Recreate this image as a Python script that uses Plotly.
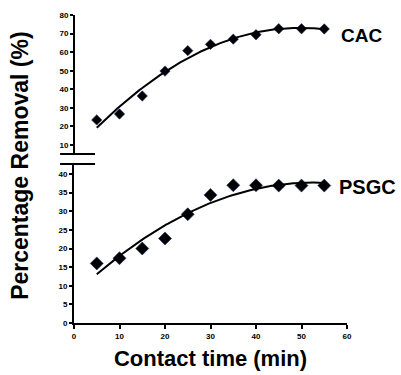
import numpy as np
import plotly.graph_objects as go

time_min = [5, 10, 15, 20, 25, 30, 35, 40, 45, 50, 55]
cac_removal = [23.5, 26.7, 36.4, 49.8, 60.8, 64.2, 67.0, 69.4, 72.6, 72.6, 72.5]
psgc_removal = [16.0, 17.4, 20.0, 22.7, 29.2, 34.4, 37.0, 37.0, 36.9, 36.9, 36.9]
x_ticks = [0, 10, 20, 30, 40, 50, 60]
top_ticks = [10, 20, 30, 40, 50, 60, 70, 80]
bottom_ticks = [0, 5, 10, 15, 20, 25, 30, 35, 40]

xs = np.linspace(min(time_min), max(time_min), 200)
cac_fit = np.polyval(np.polyfit(time_min, cac_removal, 2), xs)
psgc_fit = np.polyval(np.polyfit(time_min, psgc_removal, 2), xs)

fig = go.Figure()
mk_line = dict(color="#1b2f6e", width=0.6)
fig.add_trace(go.Scatter(x=time_min, y=cac_removal, mode="markers", xaxis="x", yaxis="y2",
                         marker=dict(symbol="diamond", size=8, color="black", line=mk_line)))
fig.add_trace(go.Scatter(x=xs, y=cac_fit, mode="lines", xaxis="x", yaxis="y2",
                         line=dict(color="black", width=2)))
fig.add_trace(go.Scatter(x=time_min, y=psgc_removal, mode="markers", xaxis="x", yaxis="y",
                         marker=dict(symbol="diamond", size=10, color="black", line=mk_line)))
fig.add_trace(go.Scatter(x=xs, y=psgc_fit, mode="lines", xaxis="x", yaxis="y",
                         line=dict(color="black", width=2)))

tickfont = dict(family="Liberation Sans, Arial, sans-serif", size=8, color="black", weight="bold")
axis_common = dict(showgrid=False, zeroline=False, showline=True, linecolor="black", linewidth=2,
                   ticks="outside", tickwidth=1.5, tickcolor="black", tickfont=tickfont,
                   automargin=False)

fig.update_layout(
    width=401, height=375,
    margin=dict(l=74, r=54, t=15, b=52),
    paper_bgcolor="white", plot_bgcolor="white",
    showlegend=False,
    font=dict(family="Liberation Sans, Arial, sans-serif", color="black"),
    xaxis=dict(domain=[0, 1], range=[0, 60], tickvals=x_ticks, anchor="y", ticklen=4,
               title=dict(text="<b>Contact time (min)</b>", font=dict(size=22), standoff=11),
               **axis_common),
    yaxis=dict(domain=[0, 0.5162], range=[0, 42.7], tickvals=bottom_ticks, anchor="x", ticklen=3,
               **axis_common),
    yaxis2=dict(domain=[0.5487, 1], range=[5.15, 80], tickvals=top_ticks, anchor="free", position=0,
                ticklen=3, **axis_common),
    annotations=[
        dict(text="<b>CAC</b>", x=58.3, y=68.7, xref="x", yref="y2", xanchor="left", yanchor="middle",
             showarrow=False, font=dict(size=19, color="black")),
        dict(text="<b>PSGC</b>", x=57.8, y=36.5, xref="x", yref="y", xanchor="left", yanchor="middle",
             showarrow=False, font=dict(size=20, color="black")),
        dict(text="<b>Percentage Removal (%)</b>", x=-0.198, y=0.51, xref="paper", yref="paper",
             textangle=-90, showarrow=False, xanchor="center", yanchor="middle",
             font=dict(size=23, color="black")),
    ],
    shapes=[
        dict(type="line", xref="paper", yref="paper", x0=-0.051, x1=0.077, y0=0.5487, y1=0.5487,
             line=dict(color="black", width=2)),
        dict(type="line", xref="paper", yref="paper", x0=-0.051, x1=0.077, y0=0.5162, y1=0.5162,
             line=dict(color="black", width=2)),
    ],
)

fig.write_html("out.html", config={"displayModeBar": False},
               post_script="document.body.style.margin='0';document.body.style.overflow='hidden';")
